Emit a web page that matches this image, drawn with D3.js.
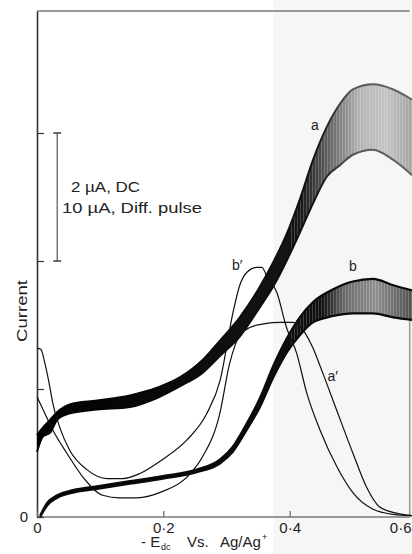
<!DOCTYPE html>
<html><head><meta charset="utf-8">
<script src="https://cdn.jsdelivr.net/npm/d3@7"></script>
<style>
html,body{margin:0;padding:0;background:#fff;}
svg{display:block;font-family:"Liberation Sans",Arial,sans-serif;}
</style></head><body>
<svg id="c" width="412" height="554"></svg>
<script>
// ---- axis ticks ----
const xTicks = [0, 0.2, 0.4, 0.6];
const xTickLabels = ["0", "0·2", "0·4", "0·6"];
const yTicks = [0, 1, 2, 3];
const yTickLabels = ["0", "", "", ""];

// ---- DC polarogram a (oscillating band: upper / lower envelope) ----
const dcA_E  = [0, 0.0095, 0.021, 0.032, 0.052, 0.095, 0.147, 0.190, 0.226, 0.263, 0.290, 0.321, 0.353, 0.374, 0.396, 0.416, 0.437, 0.459, 0.480, 0.500, 0.532, 0.564, 0.594];
const dcA_hi = [0.64, 0.70, 0.76, 0.82, 0.88, 0.91, 0.95, 1.01, 1.09, 1.23, 1.38, 1.56, 1.80, 1.99, 2.22, 2.48, 2.79, 3.05, 3.23, 3.34, 3.38, 3.34, 3.26];
const dcA_lo = [0.51, 0.63, 0.66, 0.76, 0.81, 0.84, 0.86, 0.93, 1.02, 1.13, 1.26, 1.41, 1.64, 1.80, 2.01, 2.22, 2.45, 2.66, 2.75, 2.83, 2.87, 2.79, 2.67];

// ---- DC polarogram b ----
const dcB_E  = [0.005, 0.016, 0.032, 0.057, 0.095, 0.147, 0.199, 0.253, 0.290, 0.310, 0.332, 0.353, 0.374, 0.396, 0.416, 0.437, 0.469, 0.500, 0.532, 0.564, 0.594];
const dcB_hi = [0.01, 0.11, 0.17, 0.21, 0.24, 0.28, 0.32, 0.37, 0.45, 0.55, 0.73, 0.93, 1.18, 1.40, 1.56, 1.68, 1.78, 1.84, 1.86, 1.81, 1.77];
const dcB_lo = [0.0, 0.09, 0.15, 0.19, 0.22, 0.26, 0.30, 0.35, 0.42, 0.51, 0.68, 0.86, 1.09, 1.29, 1.42, 1.52, 1.57, 1.59, 1.59, 1.56, 1.54];

// ---- Differential pulse a' ----
const dpA_E = [0, 0.0095, 0.025, 0.047, 0.073, 0.104, 0.131, 0.158, 0.199, 0.237, 0.262, 0.289, 0.305, 0.321, 0.337, 0.361, 0.385, 0.405, 0.416, 0.436, 0.452, 0.474, 0.500, 0.522, 0.542, 0.569, 0.593];
const dpA_I = [0.94, 0.84, 0.68, 0.50, 0.31, 0.17, 0.15, 0.15, 0.20, 0.31, 0.47, 0.80, 1.20, 1.42, 1.48, 1.51, 1.52, 1.52, 1.49, 1.33, 1.13, 0.84, 0.50, 0.23, 0.08, 0.03, 0.01];

// ---- Differential pulse b' ----
const dpB_E = [0, 0.006, 0.013, 0.019, 0.025, 0.036, 0.052, 0.079, 0.111, 0.136, 0.163, 0.199, 0.237, 0.269, 0.290, 0.310, 0.321, 0.332, 0.348, 0.356, 0.364, 0.380, 0.395, 0.411, 0.427, 0.448, 0.475, 0.500, 0.532, 0.564, 0.594];
const dpB_I = [1.32, 1.31, 1.19, 1.05, 0.89, 0.70, 0.52, 0.37, 0.30, 0.30, 0.34, 0.45, 0.60, 0.81, 1.07, 1.59, 1.81, 1.91, 1.95, 1.95, 1.88, 1.75, 1.48, 1.28, 0.97, 0.68, 0.39, 0.19, 0.06, 0.02, 0.01];

// ---- curve labels ----
const curveLabels = ["a", "b", "b\u2032", "a\u2032"];
const curveLabelE = [0.440, 0.500, 0.317, 0.468];
const curveLabelI = [3.02, 1.92, 1.93, 1.06];

// ---- scale-bar annotation ----
const scaleBarE = 0.032;
const scaleBarI = [2, 3];
const scaleTexts = ["2 \u00b5A, DC", "10 \u00b5A,  Diff.  pulse"];

// ================= drawing =================
const svg = d3.select("#c");
const x = d3.scaleLinear().domain([0, 0.6]).range([37, 416]);
const y = d3.scaleLinear().domain([0, 3.953]).range([517, 11]);
const xEnd = 0.59;

const defs = svg.append("defs");
function grad(id, stops) {
  const g = defs.append("linearGradient").attr("id", id)
    .attr("gradientUnits", "userSpaceOnUse")
    .attr("x1", x(0)).attr("x2", x(0.594)).attr("y1", 0).attr("y2", 0);
  stops.forEach(s => g.append("stop").attr("offset", s[0]).attr("stop-color", s[1]));
}
grad("gA", [[0, "#000"], [0.7, "#151515"], [0.79, "#707070"], [0.86, "#b4b4b4"], [0.93, "#c4c4c4"], [1, "#a4a4a4"]]);
grad("gB", [[0, "#000"], [0.76, "#111"], [0.82, "#6a6a6a"], [0.9, "#909090"], [1, "#505050"]]);
grad("eA", [[0, "#000"], [0.74, "#111"], [0.84, "#555"], [1, "#666"]]);
const pat = defs.append("pattern").attr("id", "hatch").attr("patternUnits", "userSpaceOnUse")
  .attr("width", 3).attr("height", 10);
pat.append("rect").attr("x", 0).attr("y", 0).attr("width", 1).attr("height", 10)
  .attr("fill", "#fff").attr("fill-opacity", 0.2);
defs.append("clipPath").attr("id", "rightClip").append("rect")
  .attr("x", x(0.40)).attr("y", 0).attr("width", 412 - x(0.40)).attr("height", 554);

// faint scan shading on the right
svg.append("rect").attr("x", x(0.374)).attr("y", 0)
  .attr("width", 412 - x(0.374)).attr("height", 554).attr("fill", "#f6f6f6");

// frame lines
svg.append("line").attr("x1", x(0)).attr("x2", x(xEnd)).attr("y1", y(3.953)).attr("y2", y(3.953))
  .attr("stroke", "#7a7a7a").attr("stroke-width", 1.5);
svg.append("line").attr("x1", x(xEnd)).attr("x2", x(xEnd)).attr("y1", y(1.78)).attr("y2", y(0))
  .attr("stroke", "#999").attr("stroke-width", 1.5);
svg.append("line").attr("x1", x(0)).attr("x2", x(xEnd)).attr("y1", y(0)).attr("y2", y(0))
  .attr("stroke", "#777").attr("stroke-width", 1.4);

// y axis
const yAx = svg.append("g").attr("transform", `translate(${x(0)},0)`)
  .call(d3.axisLeft(y).tickValues(yTicks).tickSizeInner(-7).tickSizeOuter(0).tickPadding(9)
    .tickFormat((d, i) => yTickLabels[i]));
yAx.select(".domain").attr("stroke", "#333").attr("stroke-width", 1.6);
yAx.selectAll(".tick line").attr("stroke", "#333").attr("stroke-width", 1.2);
yAx.selectAll(".tick text").attr("font-size", 15).attr("fill", "#222")
  .attr("font-family", "Liberation Sans, Arial, sans-serif");

// x axis
const xAx = svg.append("g").attr("transform", `translate(0,${y(0)})`)
  .call(d3.axisBottom(x).tickValues(xTicks).tickSizeInner(-6).tickSizeOuter(0).tickPadding(5)
    .tickFormat((d, i) => xTickLabels[i]));
xAx.select(".domain").remove();
xAx.selectAll(".tick line").attr("stroke", "#666").attr("stroke-width", 1.2);
xAx.selectAll(".tick text").attr("font-size", 15).attr("fill", "#222")
  .attr("font-family", "Liberation Sans, Arial, sans-serif")
  .attr("text-anchor", (d, i) => i === xTicks.length - 1 ? "end" : "middle")
  .attr("dx", (d, i) => i === xTicks.length - 1 ? -5 : 0);

// bands
function band(E, hi, lo) { return E.map((e, i) => ({ E: e, hi: hi[i], lo: lo[i] })); }
const area = d3.area().x(d => x(d.E)).y0(d => y(d.lo)).y1(d => y(d.hi)).curve(d3.curveMonotoneX);
const lineHi = d3.line().x(d => x(d.E)).y(d => y(d.hi)).curve(d3.curveMonotoneX);
const lineLo = d3.line().x(d => x(d.E)).y(d => y(d.lo)).curve(d3.curveMonotoneX);

const bandA = band(dcA_E, dcA_hi, dcA_lo);
const bandB = band(dcB_E, dcB_hi, dcB_lo);

svg.append("path").datum(bandA).attr("d", area).attr("fill", "url(#gA)");
svg.append("path").datum(bandA).attr("d", area).attr("fill", "url(#hatch)").attr("clip-path", "url(#rightClip)");
svg.append("path").datum(bandA).attr("d", lineHi).attr("fill", "none").attr("stroke", "url(#eA)").attr("stroke-width", 2);
svg.append("path").datum(bandA).attr("d", lineLo).attr("fill", "none").attr("stroke", "url(#eA)").attr("stroke-width", 2);

svg.append("path").datum(bandB).attr("d", area).attr("fill", "url(#gB)");
svg.append("path").datum(bandB).attr("d", area).attr("fill", "url(#hatch)").attr("clip-path", "url(#rightClip)");
svg.append("path").datum(bandB).attr("d", lineHi).attr("fill", "none").attr("stroke", "#0a0a0a").attr("stroke-width", 2.2);
svg.append("path").datum(bandB).attr("d", lineLo).attr("fill", "none").attr("stroke", "#0a0a0a").attr("stroke-width", 2.2);

// differential pulse curves
const dpLine = d3.line().x(d => x(d[0])).y(d => y(d[1])).curve(d3.curveMonotoneX);
svg.append("path").datum(dpA_E.map((e, i) => [e, dpA_I[i]])).attr("d", dpLine)
  .attr("fill", "none").attr("stroke", "#111").attr("stroke-width", 1.2);
svg.append("path").datum(dpB_E.map((e, i) => [e, dpB_I[i]])).attr("d", dpLine)
  .attr("fill", "none").attr("stroke", "#111").attr("stroke-width", 1.2);

// curve labels
svg.selectAll("text.cl").data(curveLabels).enter().append("text").attr("class", "cl")
  .attr("x", (d, i) => x(curveLabelE[i])).attr("y", (d, i) => y(curveLabelI[i]))
  .attr("text-anchor", "middle").attr("font-size", 14).attr("fill", "#222").text(d => d);

// scale bar
const sbx = x(scaleBarE);
svg.append("line").attr("x1", sbx).attr("x2", sbx).attr("y1", y(scaleBarI[1])).attr("y2", y(scaleBarI[0]))
  .attr("stroke", "#555").attr("stroke-width", 1.2);
[scaleBarI[0], scaleBarI[1]].forEach(v => {
  svg.append("line").attr("x1", sbx - 4).attr("x2", sbx + 4).attr("y1", y(v)).attr("y2", y(v))
    .attr("stroke", "#333").attr("stroke-width", 1.4);
});
svg.append("text").attr("x", 71).attr("y", 192).attr("font-size", 14).attr("fill", "#222")
  .attr("textLength", 69).attr("lengthAdjust", "spacingAndGlyphs").text(scaleTexts[0]);
svg.append("text").attr("x", 62).attr("y", 213).attr("font-size", 14).attr("fill", "#222")
  .attr("textLength", 140).attr("lengthAdjust", "spacingAndGlyphs").text(scaleTexts[1]);

// axis titles
svg.append("text").attr("transform", "translate(27,311) rotate(-90)").attr("text-anchor", "middle")
  .attr("font-size", 15).attr("fill", "#222").attr("textLength", 62).attr("lengthAdjust", "spacingAndGlyphs")
  .text("Current");

const xt = svg.append("text").attr("y", 547).attr("font-size", 15).attr("fill", "#222");
xt.append("tspan").attr("x", 141).text("- E");
xt.append("tspan").attr("x", 161).attr("dy", 3).attr("font-size", 9).text("dc");
xt.append("tspan").attr("x", 187).attr("dy", -3).text("Vs.");
xt.append("tspan").attr("x", 220).text("Ag/Ag");
xt.append("tspan").attr("dx", 1).attr("dy", -7).attr("font-size", 9).text("+");
</script>
</body></html>
